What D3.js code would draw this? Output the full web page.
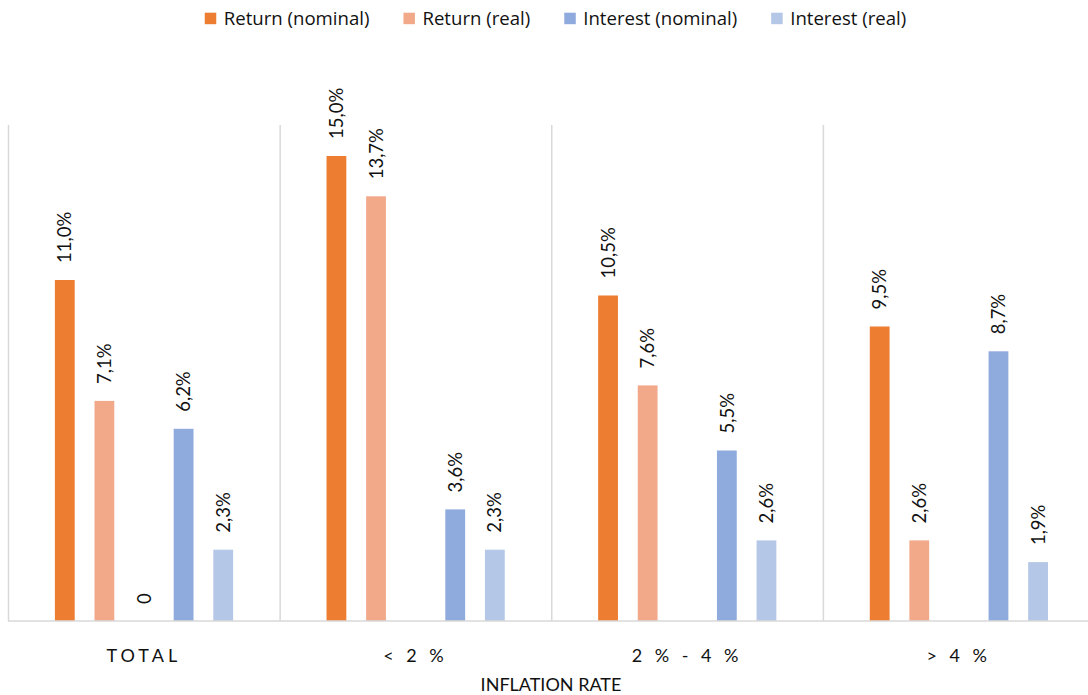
<!DOCTYPE html>
<html>
<head>
<meta charset="utf-8">
<script src="https://cdn.jsdelivr.net/npm/d3@7"></script>
<style>
  html, body { margin: 0; padding: 0; background: #fff; }
  svg { display: block; }
</style>
</head>
<body>
<svg id="chart" width="1088" height="695"></svg>
<script>
// Inflation-rate buckets shown along the x axis
const categories = ["TOTAL", "< 2 %", "2 % - 4 %", "> 4 %"];

// Series (percent); the unnamed third series only carries the zero in TOTAL
const returnNominal   = [11.0, 15.0, 10.5, 9.5];
const returnReal      = [7.1, 13.7, 7.6, 2.6];
const blankSeries     = [0, null, null, null];
const interestNominal = [6.2, 3.6, 5.5, 8.7];
const interestReal    = [2.3, 2.3, 2.6, 1.9];

const seriesNames = ["Return (nominal)", "Return (real)", "", "Interest (nominal)", "Interest (real)"];
const seriesColors = ["#ED7D31", "#F2A98A", "#FFFFFF", "#8FAADC", "#B4C7E7"];
const seriesValues = [returnNominal, returnReal, blankSeries, interestNominal, interestReal];

const yMax = 16;
const axisTitle = "INFLATION RATE";

const svg = d3.select("#chart");
const labelFont = "Lato, 'Open Sans', sans-serif";
const legendFont = "'Open Sans', 'Noto Sans', sans-serif";

const plot = { left: 8.5, right: 1095, top: 125, bottom: 621 };

const x0 = d3.scaleBand().domain(categories).range([plot.left, plot.right]).padding(0);
const x1 = d3.scaleBand().domain(d3.range(seriesValues.length))
  .range([36.5, 234.5]).paddingInner(0.5).paddingOuter(0.25);
const y = d3.scaleLinear().domain([0, yMax]).range([plot.bottom, plot.top]);

// Vertical separators between category groups
const gridColor = "#D9D9D9";
svg.append("g").selectAll("line")
  .data(categories)
  .join("line")
  .attr("x1", d => x0(d)).attr("x2", d => x0(d))
  .attr("y1", plot.top).attr("y2", plot.bottom)
  .attr("stroke", gridColor).attr("stroke-width", 1.5);

// Bars
const fmt = v => v === 0 ? "0" : d3.format(".1f")(v).replace(".", ",") + "%";
const barData = [];
categories.forEach((c, ci) => {
  seriesValues.forEach((vals, si) => {
    const v = vals[ci];
    if (v !== null && v !== undefined) barData.push({ c, si, v });
  });
});

const groups = svg.append("g");
groups.selectAll("rect")
  .data(barData.filter(d => d.v > 0))
  .join("rect")
  .attr("x", d => x0(d.c) + x1(d.si))
  .attr("y", d => y(d.v))
  .attr("width", x1.bandwidth())
  .attr("height", d => y(0) - y(d.v))
  .attr("fill", d => seriesColors[d.si]);

// Rotated value labels above each bar
groups.selectAll("text")
  .data(barData)
  .join("text")
  .attr("transform", d => {
    const cx = x0(d.c) + x1(d.si) + x1.bandwidth() / 2;
    const ty = y(d.v) - 17;
    return `translate(${cx},${ty}) rotate(-90)`;
  })
  .attr("dy", "0.36em")
  .attr("text-anchor", "start")
  .attr("font-family", labelFont)
  .attr("font-size", 18.5)
  .attr("fill", "#111")
  .text(d => fmt(d.v));

// Baseline
svg.append("line")
  .attr("x1", plot.left - 0.5).attr("x2", 1088)
  .attr("y1", plot.bottom).attr("y2", plot.bottom)
  .attr("stroke", gridColor).attr("stroke-width", 1.5);

// Category labels
svg.append("g").selectAll("text")
  .data(categories)
  .join("text")
  .attr("x", d => x0(d) + x0.bandwidth() / 2 - 0.5)
  .attr("y", 662)
  .attr("text-anchor", "middle")
  .attr("font-family", labelFont)
  .attr("font-size", 18)
  .attr("letter-spacing", 4)
  .attr("fill", "#111")
  .text(d => d);

// Axis title
svg.append("text")
  .attr("x", 551).attr("y", 691)
  .attr("text-anchor", "middle")
  .attr("font-family", labelFont)
  .attr("font-size", 18)
  .attr("fill", "#111")
  .text(axisTitle);

// Legend
const legendItems = seriesNames.map((n, i) => ({ n, i })).filter(d => d.n !== "");
const legend = svg.append("g");
const items = legend.selectAll("g").data(legendItems).join("g");
items.append("rect")
  .attr("width", 11.5).attr("height", 11.5)
  .attr("y", 12.7)
  .attr("fill", d => seriesColors[d.i]);
items.append("text")
  .attr("x", 19).attr("y", 25)
  .attr("font-family", legendFont)
  .attr("font-size", 18.6)
  .attr("fill", "#111")
  .text(d => d.n);
let cursor = 0;
const offsets = [];
items.each(function () {
  const w = d3.select(this).select("text").node().getComputedTextLength();
  offsets.push(cursor);
  cursor += 19 + w + 34;
});
const total = cursor - 34;
const startX = 555.5 - total / 2;
items.attr("transform", (d, i) => `translate(${startX + offsets[i]},0)`);
</script>
</body>
</html>
